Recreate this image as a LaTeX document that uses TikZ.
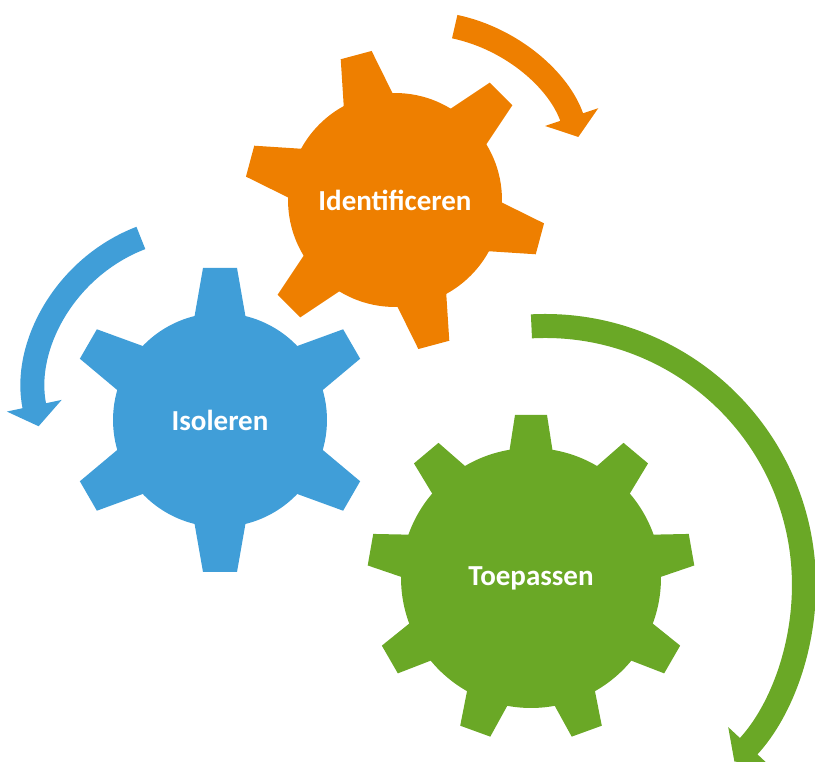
\documentclass[tikz,border=0pt]{standalone}
\usepackage{fontspec}
\setmainfont{Carlito}
\definecolor{gearorange}{RGB}{238,127,0}
\definecolor{gearblue}{RGB}{64,158,216}
\definecolor{geargreen}{RGB}{106,168,38}
\usetikzlibrary{arrows.meta}

\begin{document}
\begin{tikzpicture}[
    x=0.02cm, y=0.02cm,
    gear/.style={circle, inner sep=0pt, text=white,
                 font=\bfseries\fontsize{16.5}{18}\selectfont},
    cyc/.style={line width=0.48cm, -{Triangle[width=1.1cm, length=0.42cm]}}
]
    \useasboundingbox (0,0) rectangle (815,761);

    \node[gear, fill=gearorange, minimum size=4.28cm] (ident) at (395,561) {Identificeren};
    \node[gear, fill=gearblue, minimum size=4.28cm] (iso) at (220,341) {Isoleren};
    \node[gear, fill=geargreen, minimum size=5.2cm] (toep) at (531,183) {Toepassen};

    % teeth
    \foreach \a in {45,105,...,345}
        \fill[gearorange, shift={(ident.center)}, rotate=\a]
            (95,-27) -- (150,-16) -- (150,16) -- (95,27) -- cycle;
    \foreach \a in {30,90,...,330}
        \fill[gearblue, shift={(iso.center)}, rotate=\a]
            (95,-27) -- (152,-17) -- (152,17) -- (95,27) -- cycle;
    \foreach \a in {10,50,...,330}
        \fill[geargreen, shift={(toep.center)}, rotate=\a]
            (118,-23) -- (163,-16) -- (163,16) -- (118,23) -- cycle;

    % turning arrows
    \draw[cyc, gearorange] ([shift={(78:167)}]420,571)
        arc[start angle=78, end angle=18.5, radius=3.34cm];
    \draw[cyc, gearblue] ([shift={(111:165)}]200,369)
        arc[start angle=111, end angle=192, radius=3.3cm];
    \draw[cyc, geargreen] ([shift={(93:259)}]545,176)
        arc[start angle=93, end angle=-43, radius=5.18cm];
\end{tikzpicture}
\end{document}
